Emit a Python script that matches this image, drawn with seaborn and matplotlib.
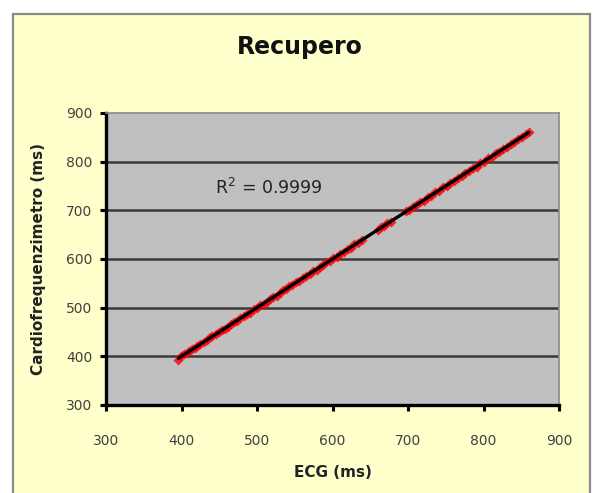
import numpy as np
import pandas as pd
import matplotlib
matplotlib.use("Agg")
import matplotlib.pyplot as plt
from matplotlib.patches import Rectangle
import seaborn as sns

# Paired RR-interval readings (ms): ECG vs. heart-rate monitor, recovery phase
ecg = [396, 399, 403, 407, 410, 414, 418, 421, 425, 430, 434, 438, 441, 446,
       450, 453, 457, 462, 466, 470, 474, 478, 483, 487, 491, 496, 500, 504,
       509, 513, 517, 521, 526, 530, 535, 539, 543, 547, 552, 556, 561, 565,
       570, 574, 579, 583, 588, 592, 597, 601, 606, 610, 615, 620, 624, 629,
       634, 639, 660, 664, 668, 672, 677, 697, 701, 706, 711, 716, 721, 726,
       731, 736, 741, 746, 751, 756, 761, 766, 771, 776, 781, 786, 791, 796,
       801, 806, 811, 816, 821, 826, 831, 836, 841, 846, 851, 856, 860]
cardio = [393, 400, 404, 406, 411, 415, 417, 422, 426, 429, 433, 439, 442, 445,
          451, 454, 456, 461, 467, 471, 473, 479, 482, 488, 490, 497, 499, 505,
          508, 512, 518, 522, 525, 531, 536, 538, 544, 546, 553, 555, 560, 566,
          569, 575, 578, 584, 587, 593, 596, 602, 605, 611, 614, 621, 623, 630,
          633, 640, 659, 665, 667, 673, 676, 698, 700, 707, 710, 717, 720, 727,
          730, 737, 740, 747, 750, 757, 760, 767, 770, 777, 780, 787, 790, 797,
          800, 807, 810, 817, 820, 827, 830, 837, 840, 847, 850, 857, 861]

x_ticks = [300, 400, 500, 600, 700, 800, 900]
y_ticks = [300, 400, 500, 600, 700, 800, 900]

df = pd.DataFrame({"ECG (ms)": ecg, "Cardiofrequenzimetro (ms)": cardio})

slope, intercept = np.polyfit(df["ECG (ms)"], df["Cardiofrequenzimetro (ms)"], 1)
pred = slope * df["ECG (ms)"] + intercept
ss_res = ((df["Cardiofrequenzimetro (ms)"] - pred) ** 2).sum()
ss_tot = ((df["Cardiofrequenzimetro (ms)"] - df["Cardiofrequenzimetro (ms)"].mean()) ** 2).sum()
r2 = 1 - ss_res / ss_tot

sns.set_theme(style="white")
plt.rcParams["font.family"] = ["DejaVu Sans"]

W, H = 593, 493
fig = plt.figure(figsize=(W / 100, H / 100), dpi=100, facecolor="white")

# chart-area panel with grey frame, kept behind the axes
fig.patches.append(Rectangle((13 / W, -0.05), (590 - 13) / W, 1.05 - 14 / H,
                             transform=fig.transFigure, facecolor="#FFFFCC",
                             edgecolor="#8a8a8a", linewidth=1.6, zorder=-10))

left, right, top, bottom = 106, 559, 113, 405
ax = fig.add_axes([left / W, 1 - bottom / H, (right - left) / W, (bottom - top) / H])
ax.set_zorder(1)
ax.set_facecolor("#C0C0C0")

sns.regplot(data=df, x="ECG (ms)", y="Cardiofrequenzimetro (ms)", ax=ax,
            ci=None, truncate=True, marker="D",
            scatter_kws=dict(color="#FF0000", s=26, linewidths=0, zorder=3),
            line_kws=dict(color="black", linewidth=2.4, zorder=4))

ax.set_xlim(300, 900)
ax.set_ylim(300, 900)
ax.set_xticks(x_ticks)
ax.set_yticks(y_ticks)
ax.set_xticklabels([str(v) for v in x_ticks])
ax.set_yticklabels([str(v) for v in y_ticks])

for v in y_ticks[1:-1]:
    ax.axhline(v, color="#3a3a3a", linewidth=1.8, zorder=1)

for side in ["left", "bottom"]:
    ax.spines[side].set_color("black")
    ax.spines[side].set_linewidth(2.4)
for side in ["top", "right"]:
    ax.spines[side].set_color("#8a8a8a")
    ax.spines[side].set_linewidth(1.2)

ax.tick_params(axis="both", which="major", direction="out", length=4, width=2.2,
               color="black", labelsize=10, labelcolor="#404040")
ax.tick_params(axis="x", pad=17, bottom=True)
ax.tick_params(axis="y", pad=6, left=True)

ax.set_xlabel("ECG (ms)", fontsize=11, fontweight="bold", color="#222222", labelpad=12)
ax.set_ylabel("Cardiofrequenzimetro (ms)", fontsize=11, fontweight="bold",
              color="#222222", labelpad=14)

ax.text(445, 747, f"R$^2$ = {r2:.4f}", fontsize=12.5, color="#222222",
        ha="left", va="center", zorder=5)

fig.text(300 / W, 1 - 47 / H, "Recupero", fontsize=17, fontweight="bold",
         color="#111111", ha="center", va="center")

fig.savefig("out.png", dpi=100, facecolor=fig.get_facecolor())
